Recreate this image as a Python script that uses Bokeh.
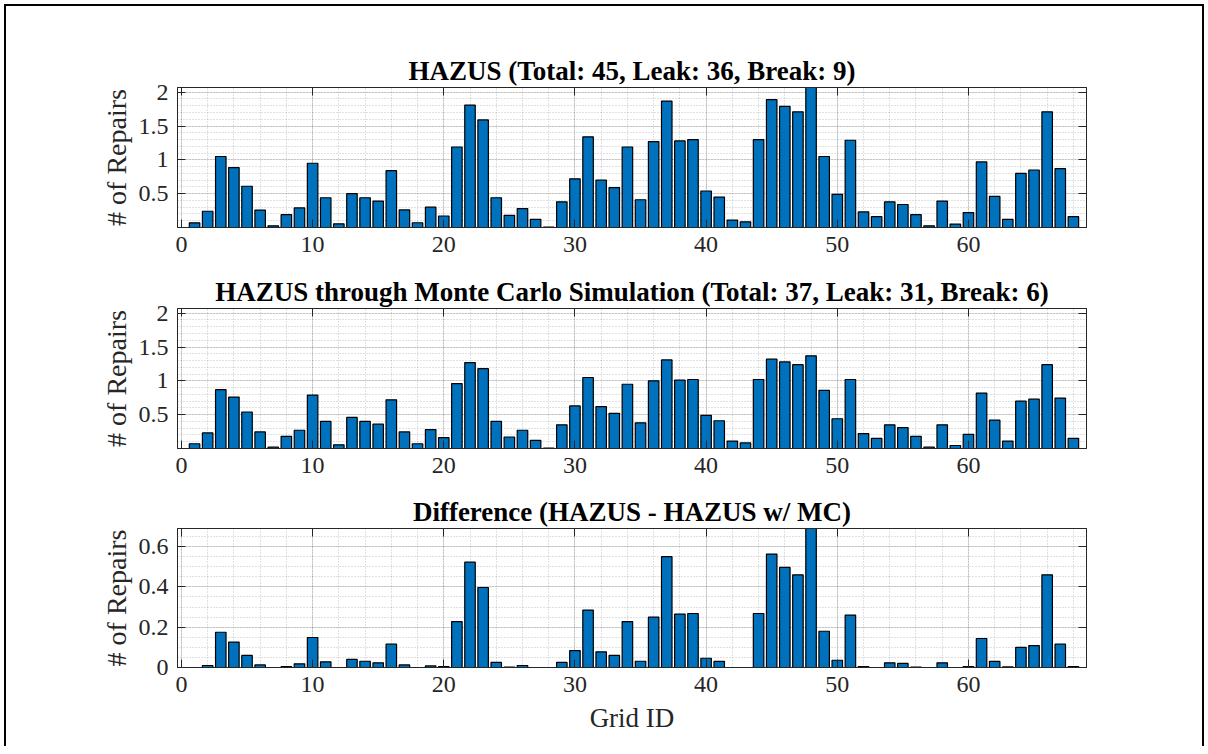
from bokeh.plotting import figure
from bokeh.layouts import column
from bokeh.models import Range1d, FixedTicker, LinearAxis, CustomJSTickFormatter, ColumnDataSource
from bokeh.embed import file_html
from bokeh.resources import INLINE

# ---------------- data ----------------
grid_id = list(range(1, 69))

hazus = [0.069, 0.24, 1.05, 0.886, 0.61, 0.257, 0.025, 0.19, 0.29, 0.95,
         0.44, 0.054, 0.50, 0.44, 0.39, 0.84, 0.26, 0.07, 0.30, 0.17,
         1.19, 1.81, 1.59, 0.44, 0.18, 0.28, 0.12, 0.005, 0.38, 0.72,
         1.34, 0.70, 0.59, 1.19, 0.41, 1.27, 1.87, 1.28, 1.30, 0.54,
         0.45, 0.11, 0.084, 1.30, 1.89, 1.79, 1.71, 2.07, 1.05, 0.49,
         1.29, 0.23, 0.16, 0.38, 0.34, 0.19, 0.025, 0.39, 0.05, 0.22,
         0.97, 0.46, 0.12, 0.80, 0.85, 1.71, 0.87, 0.16]

hazus_mc = [0.07, 0.23, 0.87, 0.76, 0.54, 0.245, 0.02, 0.18, 0.27, 0.79,
            0.40, 0.054, 0.46, 0.40, 0.36, 0.72, 0.245, 0.07, 0.28, 0.16,
            0.96, 1.27, 1.18, 0.40, 0.17, 0.27, 0.12, 0.005, 0.35, 0.63,
            1.05, 0.62, 0.52, 0.95, 0.38, 1.00, 1.31, 1.01, 1.02, 0.49,
            0.41, 0.11, 0.083, 1.02, 1.32, 1.28, 1.24, 1.37, 0.86, 0.44,
            1.02, 0.22, 0.15, 0.35, 0.31, 0.18, 0.02, 0.35, 0.044, 0.21,
            0.82, 0.42, 0.11, 0.70, 0.73, 1.24, 0.745, 0.15]

difference = [0.0, 0.01, 0.175, 0.126, 0.06, 0.013, 0.0, 0.005, 0.018, 0.149,
              0.028, 0.0, 0.04, 0.031, 0.023, 0.116, 0.013, 0.0, 0.008, 0.005,
              0.228, 0.523, 0.397, 0.025, 0.002, 0.01, 0.0, 0.0, 0.025, 0.084,
              0.285, 0.078, 0.06, 0.228, 0.031, 0.25, 0.55, 0.265, 0.268, 0.046,
              0.03, 0.0, 0.0, 0.268, 0.563, 0.497, 0.46, 0.69, 0.18, 0.036,
              0.26, 0.005, 0.0, 0.023, 0.02, 0.002, 0.0, 0.023, 0.0, 0.005,
              0.144, 0.03, 0.003, 0.10, 0.109, 0.46, 0.116, 0.005]

titles = ["HAZUS (Total: 45, Leak: 36, Break: 9)",
          "HAZUS through Monte Carlo Simulation (Total: 37, Leak: 31, Break: 6)",
          "Difference (HAZUS - HAZUS w/ MC)"]
y_label = "# of Repairs"
x_label = "Grid ID"

x_major = [0, 10, 20, 30, 40, 50, 60]
y_major_top = [0.5, 1, 1.5, 2]
y_major_diff = [0, 0.2, 0.4, 0.6]

FONT = "Liberation Serif"
AX = "#262626"
BAR = "#0072BD"

fmt = CustomJSTickFormatter(code="return String(Math.round(tick*100)/100);")
blank = CustomJSTickFormatter(code="return '';")


def make_panel(values, title, ymax, ymajor, ystep, height, top, bottom, xlab):
    p = figure(width=1208, height=height,
               x_range=Range1d(-0.3, 69), y_range=Range1d(0, ymax),
               output_backend="svg", toolbar_location=None,
               min_border_left=177, min_border_right=122,
               min_border_top=top, min_border_bottom=bottom,
               background_fill_color="white", border_fill_color=None)
    p.outline_line_color = AX
    p.outline_line_width = 1

    xt = FixedTicker(ticks=x_major, minor_ticks=[v for v in range(0, 70, 2)])
    n = int(round(ymax / ystep)) + 1
    yt = FixedTicker(ticks=ymajor, minor_ticks=[round(i * ystep, 4) for i in range(n)])

    p.xaxis.ticker = xt
    p.yaxis.ticker = yt
    p.xaxis.formatter = fmt
    p.yaxis.formatter = fmt

    for ax in (p.xaxis[0], p.yaxis[0]):
        ax.major_tick_in = 8
        ax.major_tick_out = 0
        ax.minor_tick_in = 0
        ax.minor_tick_out = 0
        ax.axis_line_color = AX
        ax.major_tick_line_color = AX
        ax.major_label_text_font = FONT
        ax.major_label_text_font_size = "24px"
        ax.major_label_text_color = AX
        ax.major_label_standoff = 9
        ax.axis_label_text_font = FONT
        ax.axis_label_text_font_style = "normal"
        ax.axis_label_text_color = AX

    p.yaxis.axis_label = y_label
    p.yaxis.axis_label_text_font_size = "28px"
    p.yaxis.axis_label_standoff = 4
    if xlab:
        p.xaxis.axis_label = x_label
        p.xaxis.axis_label_text_font_size = "27px"
        p.xaxis.axis_label_standoff = 8

    # box ticks on top and right
    for side, tk in (("above", xt), ("right", yt)):
        a = LinearAxis(ticker=tk, formatter=blank)
        a.major_tick_in = 8
        a.major_tick_out = 0
        a.minor_tick_in = 0
        a.minor_tick_out = 0
        a.axis_line_color = AX
        a.major_tick_line_color = AX
        a.major_label_text_font_size = "1px"
        a.major_label_standoff = 0
        p.add_layout(a, side)

    for g in (p.xgrid[0], p.ygrid[0]):
        g.grid_line_color = AX
        g.grid_line_alpha = 0.15
        g.minor_grid_line_color = AX
        g.minor_grid_line_alpha = 0.28
        g.minor_grid_line_dash = "1 2"

    p.title.text = title
    p.title.text_font = FONT
    p.title.text_font_size = "27px"
    p.title.text_font_style = "bold"
    p.title.text_color = "black"
    p.title.align = "center"
    p.title.standoff = 4

    src = ColumnDataSource(dict(x=grid_id, top=values))
    p.vbar(x="x", top="top", bottom=0, width=0.8, source=src,
           fill_color=BAR, line_color="black", line_width=1.2)
    return p


p1 = make_panel(hazus, titles[0], 2.07, y_major_top, 0.1, 267, 87, 40, False)
p2 = make_panel(hazus_mc, titles[1], 2.07, y_major_top, 0.1, 220, 41, 39, False)
p3 = make_panel(difference, titles[2], 0.69, y_major_diff, 0.05, 267, 41, 87, True)

layout = column(p1, p2, p3, spacing=0,
                styles={"background-color": "white",
                        "box-shadow": "inset 0 -8px 0 0 white, inset 0 0 0 4px white, inset 0 0 0 6px black"})

open("out.html", "w").write(file_html(layout, INLINE))
